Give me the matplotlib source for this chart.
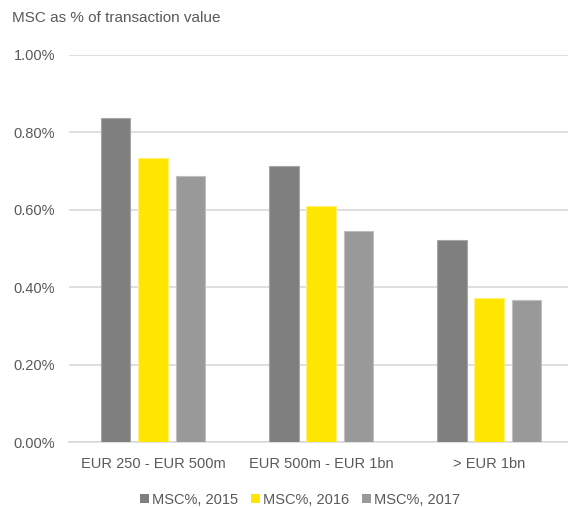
import numpy as np
import matplotlib.pyplot as plt
from matplotlib.patches import Patch
from matplotlib.ticker import PercentFormatter

plt.rcParams['font.family'] = ['Liberation Sans', 'DejaVu Sans']

# data
categories = ['EUR 250 - EUR 500m', 'EUR 500m - EUR 1bn', '> EUR 1bn']
series = ['MSC%, 2015', 'MSC%, 2016', 'MSC%, 2017']
msc_2015 = [0.837, 0.713, 0.522]
msc_2016 = [0.734, 0.610, 0.372]
msc_2017 = [0.687, 0.545, 0.367]
colors = ['#7f7f7f', '#ffe600', '#999999']
edges = ['#a6a6a6', '#fff07a', '#bfbfbf']

text_col = '#595959'

fig = plt.figure(figsize=(5.68, 5.08), dpi=100)
ax = fig.add_axes([69 / 568, 66 / 508, 499 / 568, 387 / 508])

x = np.arange(len(categories))
w = 0.178
step = 0.223
for i, vals in enumerate([msc_2015, msc_2016, msc_2017]):
    ax.bar(x + (i - 1) * step, vals, width=w, color=colors[i],
           edgecolor=edges[i], linewidth=0.8, zorder=3)

ax.set_xlim(-0.5, 2.47)
ax.set_ylim(0, 1.0)
ax.set_yticks([0, 0.2, 0.4, 0.6, 0.8, 1.0])
ax.yaxis.set_major_formatter(PercentFormatter(decimals=2))
ax.set_xticks(x)
ax.set_xticklabels(categories)
ax.grid(axis='y', color='#d9d9d9', linewidth=1.2, zorder=0)
ax.tick_params(axis='both', length=0, labelsize=10.5, labelcolor=text_col)
ax.tick_params(axis='y', pad=10)
ax.tick_params(axis='x', pad=11)
for s in ['top', 'right', 'left']:
    ax.spines[s].set_visible(False)
ax.spines['bottom'].set_color('#d9d9d9')
ax.spines['bottom'].set_linewidth(1.2)

fig.text(12 / 568, 1 - 18 / 508, 'MSC as % of transaction value',
         fontsize=11, color=text_col, va='center', ha='left')

handles = [Patch(facecolor=c, edgecolor='none') for c in colors]
fig.legend(handles, series, loc='center', bbox_to_anchor=(300 / 568, 1 - 500 / 508),
           ncol=3, frameon=False, fontsize=10.5, labelcolor=text_col,
           handlelength=0.6, handleheight=0.6, handletextpad=0.2, columnspacing=0.9)

plt.savefig('out.png', dpi=100)
